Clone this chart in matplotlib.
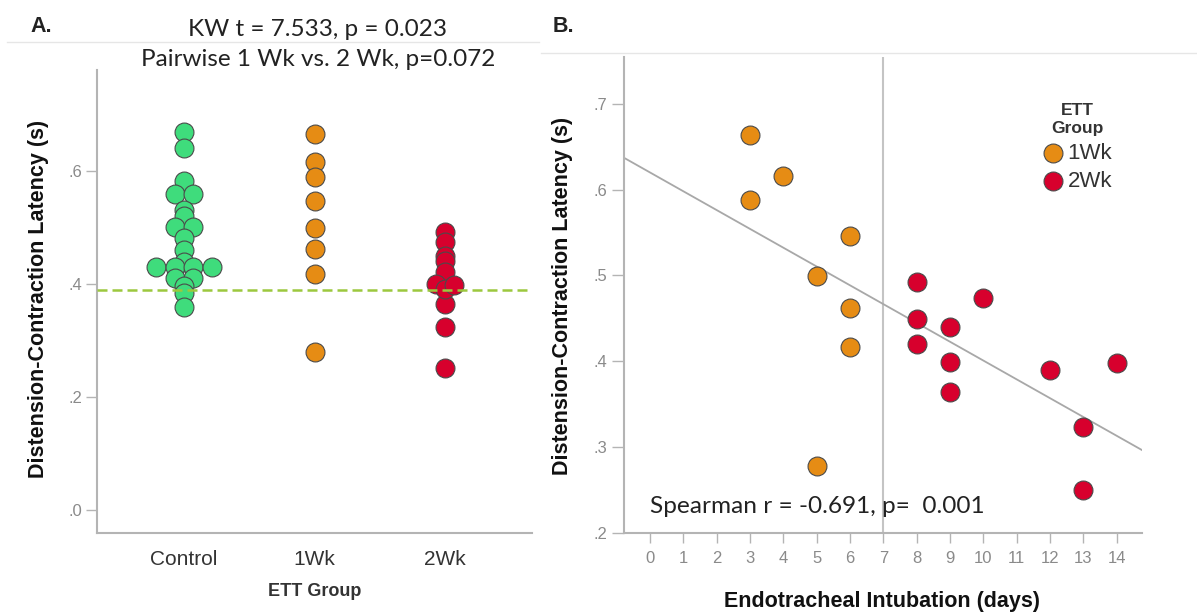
import numpy as np
import matplotlib
matplotlib.use('Agg')
import matplotlib.pyplot as plt
from matplotlib.lines import Line2D
from matplotlib.ticker import FuncFormatter, FixedLocator

# ---------------- data ----------------
groups = ['Control', '1Wk', '2Wk']
dcl_control = [0.669, 0.640, 0.581, 0.559, 0.559, 0.530, 0.520, 0.501, 0.501,
               0.480, 0.460, 0.439, 0.430, 0.430, 0.430, 0.430, 0.410, 0.410,
               0.395, 0.383, 0.359]
days_1wk = [3, 4, 3, 6, 5, 6, 6, 5]
dcl_1wk = [0.664, 0.616, 0.588, 0.546, 0.499, 0.462, 0.417, 0.278]
days_2wk = [8, 10, 8, 9, 8, 9, 9, 12, 14, 13, 13]
dcl_2wk = [0.492, 0.474, 0.449, 0.440, 0.420, 0.399, 0.364, 0.390, 0.398, 0.323, 0.250]
reference_value = 0.389
days_cut = 7
title_lines = ['KW t = 7.533, p = 0.023', 'Pairwise 1 Wk vs. 2 Wk, p=0.072']
spearman_text = 'Spearman r = -0.691, p=  0.001'
ya_ticks = [0.0, 0.2, 0.4, 0.6]
yb_ticks = [0.2, 0.3, 0.4, 0.5, 0.6, 0.7]
xb_ticks = list(range(0, 15))
ylabel = 'Distension-Contraction Latency (s)'
xlabel_a = 'ETT Group'
xlabel_b = 'Endotracheal Intubation (days)'
legend_title = 'ETT\nGroup'

# ---------------- style ----------------
C_GREEN = '#3fdc7c'
C_ORANGE = '#e68c14'
C_RED = '#d7002d'
C_EDGE = '#4a4a4a'
C_SPINE = '#b4b4b4'
C_TICKLBL = '#8a8a8a'
SANS = ['Liberation Sans', 'DejaVu Sans']
CAL = ['Lato', 'DejaVu Sans']
MS = 185

plt.rcParams['font.family'] = SANS

W, H = 1197, 614
fig = plt.figure(figsize=(W / 100, H / 100), dpi=100)
fig.patch.set_facecolor('white')


def px_axes(x0, y0, x1, y1):
    return fig.add_axes([x0 / W, 1 - y1 / H, (x1 - x0) / W, (y1 - y0) / H])


def dot_fmt(v, pos):
    return f'{v:.1f}'.lstrip('0')


def style_axes(ax):
    for s in ['top', 'right']:
        ax.spines[s].set_visible(False)
    for s in ['left', 'bottom']:
        ax.spines[s].set_color(C_SPINE)
        ax.spines[s].set_linewidth(1.5)


# ---------------- Panel A ----------------
axA = px_axes(97.3, 70, 531.7, 533.3)
style_axes(axA)
axA.set_xlim(-0.664, 2.664)
axA.set_ylim(-0.042, 0.778)

bboxA = axA.get_window_extent()
px_per_x = bboxA.width / (axA.get_xlim()[1] - axA.get_xlim()[0])
diam_px = np.sqrt(MS) * fig.dpi / 72.0


def swarm_offsets(values):
    v = np.asarray(values, dtype=float)
    bins = np.round(v * 200).astype(int)
    offs = np.zeros(len(v))
    for b in np.unique(bins):
        idx = np.where(bins == b)[0]
        n = len(idx)
        offs[idx] = (np.arange(n) - (n - 1) / 2) * diam_px * 0.98 / px_per_x
    return offs


for i, (vals, col) in enumerate(zip([dcl_control, dcl_1wk, dcl_2wk],
                                     [C_GREEN, C_ORANGE, C_RED])):
    xs = i + swarm_offsets(vals)
    axA.scatter(xs, vals, s=MS, c=col, edgecolors=C_EDGE, linewidths=0.8, zorder=3)

axA.axhline(reference_value, color='#9cc83e', lw=1.8, ls=(0, (4, 2)), zorder=4)

axA.set_xticks(range(len(groups)))
axA.set_xticklabels(groups)
axA.yaxis.set_major_locator(FixedLocator(ya_ticks))
axA.yaxis.set_major_formatter(FuncFormatter(dot_fmt))
axA.tick_params(axis='y', length=8, width=1, color=C_SPINE, labelcolor=C_TICKLBL,
                labelsize=12, pad=3)
axA.tick_params(axis='x', length=0, labelsize=15, labelcolor='#333333', pad=12)

axA.set_ylabel(ylabel, fontsize=15.5, fontweight='bold', color='#111111')
axA.yaxis.set_label_coords(-0.135, 0.506)
axA.yaxis.label.set_verticalalignment('center')
axA.set_xlabel(xlabel_a, fontsize=13, fontweight='bold', color='#333333')
axA.xaxis.set_label_coords(0.501, -0.126)
axA.xaxis.label.set_verticalalignment('center')

# ---------------- Panel B ----------------
axB = px_axes(624.3, 56.7, 1141.7, 532.7)
style_axes(axB)
axB.set_xlim(-0.77, 14.75)
axB.set_ylim(0.2, 0.755)

axB.axvline(days_cut, color='#c4c4c4', lw=1.5, zorder=1)

all_days = np.array(days_1wk + days_2wk, dtype=float)
all_dcl = np.array(dcl_1wk + dcl_2wk, dtype=float)
slope, intercept = np.polyfit(all_days, all_dcl, 1)
xfit = np.array(axB.get_xlim())
axB.plot(xfit, intercept + slope * xfit, color='#a8a8a8', lw=1.3, zorder=2)

axB.scatter(days_1wk, dcl_1wk, s=MS, c=C_ORANGE, edgecolors=C_EDGE, linewidths=0.8,
            zorder=3, label='1Wk')
axB.scatter(days_2wk, dcl_2wk, s=MS, c=C_RED, edgecolors=C_EDGE, linewidths=0.8,
            zorder=3, label='2Wk')

axB.xaxis.set_major_locator(FixedLocator(xb_ticks))
axB.yaxis.set_major_locator(FixedLocator(yb_ticks))
axB.yaxis.set_major_formatter(FuncFormatter(dot_fmt))
axB.tick_params(axis='x', length=7, width=1, color=C_SPINE, labelcolor=C_TICKLBL,
                labelsize=12, pad=6)
axB.tick_params(axis='y', length=8.5, width=1, color=C_SPINE, labelcolor=C_TICKLBL,
                labelsize=12, pad=3.5)

axB.set_ylabel(ylabel, fontsize=15.5, fontweight='bold', color='#111111')
axB.yaxis.set_label_coords(-0.1185, 0.498)
axB.yaxis.label.set_verticalalignment('center')
axB.set_xlabel(xlabel_b, fontsize=15.5, fontweight='bold', color='#111111')
axB.xaxis.set_label_coords(0.498, -0.1435)
axB.xaxis.label.set_verticalalignment('center')

axB.text(0, 0.2302, spearman_text, ha='left', va='center', fontsize=17.6,
         family=CAL, color='#222222', zorder=5)

leg = axB.legend(title=legend_title, loc='upper center',
                 bbox_to_anchor=(1077 / W, 1 - 92 / H), bbox_transform=fig.transFigure,
                 frameon=False, fontsize=16, handletextpad=0.15, labelspacing=0.32,
                 borderpad=0, handlelength=1.0, alignment='center',
                 title_fontproperties={'weight': 'bold', 'size': 12.5})
leg.get_title().set_color('#333333')
leg.get_title().set_multialignment('center')
for t in leg.get_texts():
    t.set_color('#333333')

# ---------------- figure decorations ----------------
fig.text(318 / W, 1 - 29 / H, title_lines[0], ha='center', va='center', fontsize=17.5,
         family=CAL, color='#222222')
fig.text(318 / W, 1 - 59 / H, title_lines[1], ha='center', va='center', fontsize=17.5,
         family=CAL, color='#222222')
fig.text(30 / W, 1 - 27 / H, 'A.', ha='left', va='center', fontsize=15.5,
         fontweight='bold', color='#222222')
fig.text(553 / W, 1 - 27 / H, 'B.', ha='left', va='center', fontsize=15.5,
         fontweight='bold', color='#222222')
fig.add_artist(Line2D([7 / W, 539 / W], [1 - 42 / H] * 2, transform=fig.transFigure,
                      color='#e6e6e6', lw=1))
fig.add_artist(Line2D([541 / W, 1.0], [1 - 53.3 / H] * 2, transform=fig.transFigure,
                      color='#e6e6e6', lw=1))

fig.savefig('out.png', dpi=100, facecolor='white')
